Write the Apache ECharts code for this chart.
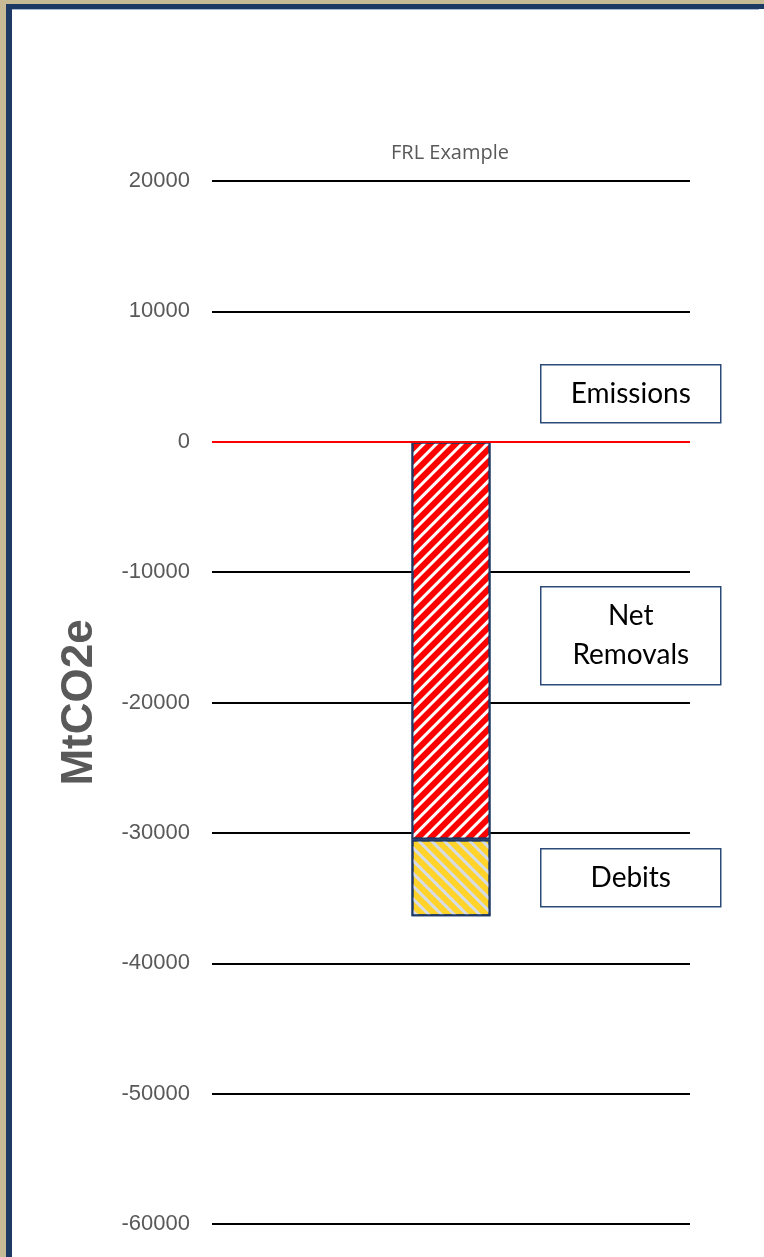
<!DOCTYPE html>
<html>
<head>
<meta charset="utf-8">
<script src="https://cdn.jsdelivr.net/npm/echarts@6/dist/echarts.min.js"></script>
<style>
  html, body { margin: 0; padding: 0; background: #ffffff; }
  #wrap { position: relative; width: 764px; height: 1257px; overflow: hidden; background: #ffffff; }
  .f { position: absolute; }
  #chart { position: absolute; left: 0; top: 0; width: 764px; height: 1257px; }
</style>
</head>
<body>
<div id="wrap">
  <div class="f" style="left:0;top:0;width:764px;height:4px;background:#c6bb94;"></div>
  <div class="f" style="left:0;top:0;width:6px;height:1257px;background:#c6bb94;"></div>
  <div class="f" style="left:6px;top:4px;width:758px;height:5px;background:#1d3a64;"></div>
  <div class="f" style="left:6px;top:4px;width:6px;height:1253px;background:#1d3a64;"></div>
  <div class="f" style="left:12px;top:9px;width:747px;height:1px;background:#a9b8d0;"></div>
  <div id="chart"></div>
</div>
<script>
// ---- data ----
const categories = ['FRL Example'];
const netRemovals = [-30500];
const debits = [-5900];
const yTicks = [-60000, -50000, -40000, -30000, -20000, -10000, 0, 10000, 20000];
const boxLabels = ['Emissions', 'Net\nRemovals', 'Debits'];

const chart = echarts.init(document.getElementById('chart'), null, { renderer: 'canvas' });

const boxStyle = { fill: '#ffffff', stroke: '#2c4a78', lineWidth: 1.5 };
const boxText = { fill: '#000000', font: '28px Lato, "Open Sans", sans-serif', align: 'center', verticalAlign: 'middle', lineHeight: 39 };
function box(x, y, w, h, txt) {
  return {
    type: 'group', left: x, top: y,
    children: [
      { type: 'rect', shape: { x: 0, y: 0, width: w, height: h }, style: boxStyle, z: 10 },
      { type: 'text', x: w / 2, y: h / 2, style: Object.assign({ text: txt }, boxText), z: 11 }
    ]
  };
}

const option = {
  backgroundColor: 'transparent',
  animation: false,
  grid: { left: 212, right: 74, top: 181, bottom: 33, containLabel: false },
  xAxis: {
    type: 'category', data: categories,
    axisLine: { show: false }, axisTick: { show: false }, axisLabel: { show: false }
  },
  yAxis: {
    type: 'value', min: yTicks[0], max: yTicks[yTicks.length - 1], interval: 10000,
    name: 'MtCO2e', nameLocation: 'middle', nameGap: 110,
    nameTextStyle: { fontFamily: '"Liberation Sans", Arial, sans-serif', fontWeight: 'bold', fontSize: 44, color: '#595959' },
    axisLine: { show: false }, axisTick: { show: false },
    axisLabel: {
      fontFamily: '"Liberation Sans", Arial, sans-serif', fontSize: 22, color: '#595959', margin: 22,
      formatter: function (v) { return String(v); }
    },
    splitLine: { lineStyle: { color: '#000000', width: 2 } }
  },
  series: [
    {
      name: 'Net Removals', type: 'bar', stack: 'a', data: netRemovals, barWidth: 79,
      itemStyle: {
        color: '#ff0000', borderColor: '#1f3864', borderWidth: 2,
        decal: { symbol: 'rect', symbolSize: 1, color: '#ffffff', dashArrayX: [1, 0], dashArrayY: [3, 6], rotation: -Math.PI / 4 }
      },
      markLine: {
        silent: true, symbol: 'none', label: { show: false },
        lineStyle: { color: '#ff0000', width: 2, type: 'solid' },
        data: [{ yAxis: 0 }], z: 20
      }
    },
    {
      name: 'Debits', type: 'bar', stack: 'a', data: debits, barWidth: 79,
      itemStyle: {
        color: '#ffd32a', borderColor: '#1f3864', borderWidth: 2,
        decal: { symbol: 'rect', symbolSize: 1, color: '#d6dce5', dashArrayX: [1, 0], dashArrayY: [3, 6], rotation: Math.PI / 4 }
      }
    }
  ],
  graphic: [
    {
      type: 'text', x: 450, y: 153, z: 11,
      style: { text: categories[0], fill: '#595959', font: '20px "Open Sans", sans-serif', align: 'center', verticalAlign: 'middle' }
    },
    box(540, 364, 180, 58, boxLabels[0]),
    box(540, 586, 180, 98, boxLabels[1]),
    box(540, 848, 180, 58, boxLabels[2])
  ]
};
chart.setOption(option);
</script>
</body>
</html>
